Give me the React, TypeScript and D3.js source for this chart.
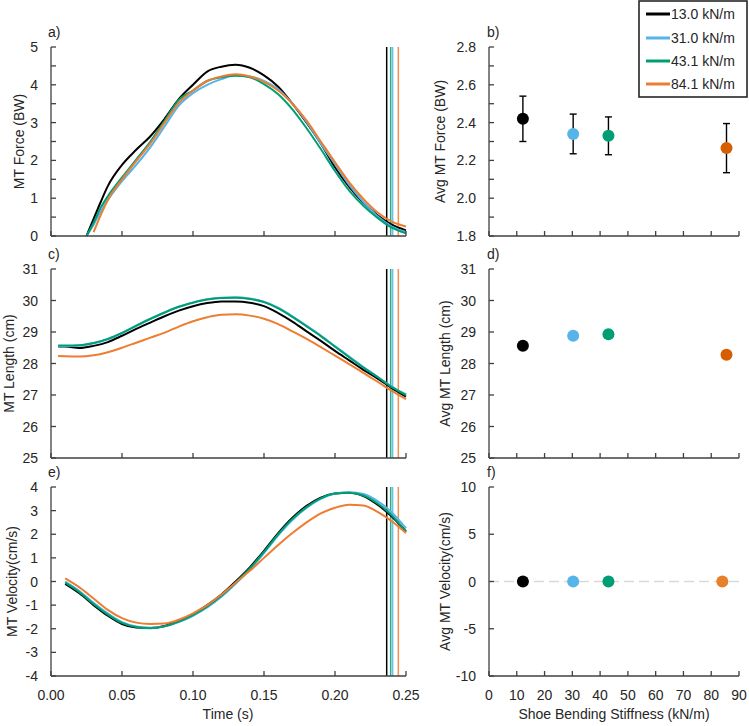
import React from "react";
import * as d3 from "d3";

// ---------- DATA ----------
const SERIES_LABELS = ["13.0 kN/m", "31.0 kN/m", "43.1 kN/m", "84.1 kN/m"];
const LINE_COLORS = ["#000000", "#56B4E9", "#009E73", "#ED7D31"];
const DOT_COLORS_BD = ["#000000", "#56B4E9", "#009E73", "#D55E00"];
const DOT_COLORS_F = ["#000000", "#56B4E9", "#009E73", "#E8802B"];

// Toe-off (end of stance) times, one per shoe
const TOE_OFF = [0.2364, 0.2406, 0.2392, 0.2446];

// a) MT force (BW)
const T_FORCE = [0.025, 0.03, 0.035, 0.04, 0.05, 0.06, 0.07, 0.08, 0.09, 0.1, 0.11, 0.12, 0.13, 0.14, 0.15, 0.16, 0.17, 0.18, 0.19, 0.2, 0.21, 0.22, 0.23, 0.24, 0.25];
const FORCE_13 = [0, 0.45, 0.9, 1.32, 1.88, 2.28, 2.64, 3.1, 3.62, 4.0, 4.35, 4.48, 4.53, 4.45, 4.25, 3.95, 3.5, 3.0, 2.45, 1.82, 1.3, 0.88, 0.55, 0.3, 0.15];
const FORCE_31 = [0, 0.3, 0.65, 0.95, 1.45, 1.88, 2.35, 2.9, 3.45, 3.78, 4.0, 4.15, 4.25, 4.22, 4.1, 3.88, 3.5, 3.02, 2.45, 1.9, 1.35, 0.9, 0.52, 0.25, 0.1];
const FORCE_43 = [0, 0.35, 0.75, 1.05, 1.55, 2.02, 2.5, 3.05, 3.6, 3.85, 4.1, 4.2, 4.24, 4.2, 4.02, 3.75, 3.35, 2.85, 2.3, 1.72, 1.2, 0.8, 0.48, 0.22, 0.07];
const FORCE_84 = [null, 0.1, 0.55, 0.95, 1.5, 1.98, 2.45, 3.0, 3.52, 3.85, 4.1, 4.22, 4.28, 4.22, 4.08, 3.85, 3.5, 3.05, 2.5, 1.95, 1.42, 0.98, 0.62, 0.38, 0.25];

// c) MT length (cm)
const T_LEN = [0.005, 0.01, 0.02, 0.03, 0.04, 0.05, 0.06, 0.07, 0.08, 0.09, 0.1, 0.11, 0.12, 0.13, 0.14, 0.15, 0.16, 0.17, 0.18, 0.19, 0.2, 0.21, 0.22, 0.23, 0.24, 0.25];
const LEN_13 = [28.54, 28.54, 28.49, 28.56, 28.68, 28.88, 29.1, 29.3, 29.5, 29.68, 29.82, 29.92, 29.97, 29.97, 29.93, 29.82, 29.6, 29.33, 29.02, 28.72, 28.4, 28.1, 27.8, 27.52, 27.22, 26.95];
const LEN_31 = [28.55, 28.55, 28.57, 28.64, 28.77, 28.96, 29.19, 29.41, 29.62, 29.8, 29.94, 30.04, 30.09, 30.1, 30.06, 29.96, 29.77, 29.5, 29.2, 28.89, 28.55, 28.22, 27.89, 27.58, 27.27, 27.02];
const LEN_43 = [28.57, 28.57, 28.58, 28.65, 28.78, 28.97, 29.2, 29.42, 29.62, 29.8, 29.93, 30.03, 30.08, 30.09, 30.05, 29.95, 29.75, 29.48, 29.18, 28.87, 28.53, 28.2, 27.87, 27.57, 27.25, 27.0];
const LEN_84 = [28.24, 28.23, 28.22, 28.26, 28.36, 28.5, 28.66, 28.82, 28.98, 29.17, 29.34, 29.47, 29.55, 29.56, 29.52, 29.42, 29.25, 29.02, 28.78, 28.52, 28.25, 27.98, 27.7, 27.42, 27.13, 26.87];

// e) MT velocity (cm/s)
const T_VEL = [0.01, 0.02, 0.03, 0.04, 0.05, 0.06, 0.07, 0.08, 0.09, 0.1, 0.11, 0.12, 0.13, 0.14, 0.15, 0.16, 0.17, 0.18, 0.19, 0.2, 0.21, 0.22, 0.23, 0.24, 0.25];
const VEL_13 = [-0.1, -0.5, -1.0, -1.45, -1.8, -1.95, -1.97, -1.88, -1.66, -1.38, -1.0, -0.55, 0.0, 0.6, 1.3, 2.05, 2.7, 3.2, 3.55, 3.72, 3.76, 3.62, 3.25, 2.75, 2.12];
const VEL_31 = [0.0, -0.4, -0.9, -1.35, -1.72, -1.9, -1.96, -1.9, -1.72, -1.45, -1.1, -0.65, -0.1, 0.5, 1.2, 1.95, 2.6, 3.12, 3.5, 3.72, 3.78, 3.7, 3.4, 2.92, 2.25];
const VEL_43 = [-0.05, -0.45, -0.95, -1.4, -1.75, -1.93, -1.98, -1.9, -1.7, -1.42, -1.05, -0.6, -0.05, 0.55, 1.25, 2.0, 2.65, 3.15, 3.52, 3.72, 3.76, 3.64, 3.3, 2.8, 2.1];
const VEL_84 = [0.13, -0.25, -0.72, -1.2, -1.55, -1.74, -1.8, -1.78, -1.62, -1.35, -1.0, -0.55, -0.05, 0.45, 1.0, 1.55, 2.05, 2.5, 2.88, 3.12, 3.25, 3.22, 2.95, 2.55, 2.05];

// b, d, f) averages vs shoe bending stiffness
const STIFF_BD = [12.2, 30.3, 43.0, 85.5];
const STIFF_F = [12.2, 30.3, 43.0, 84.0];
const AVG_FORCE = [2.42, 2.34, 2.33, 2.265];
const AVG_FORCE_SD = [0.12, 0.105, 0.1, 0.13];
const AVG_LENGTH = [28.56, 28.88, 28.93, 28.28];
const AVG_VELOCITY = [0, 0, 0, 0];

const TIME_TICKS = [0, 0.05, 0.1, 0.15, 0.2, 0.25];
const STIFF_TICKS = [0, 10, 20, 30, 40, 50, 60, 70, 80, 90];

// ---------- LAYOUT ----------
const W = 749;
const H = 726;
const LX0 = 51, LX1 = 406;
const RX0 = 489, RX1 = 739;
const ROWS = [
  [47, 236],
  [269, 458],
  [487, 676],
];
const AX = "#404040";
const TXT = "#262626";
const FONT = "'Liberation Sans', Arial, Helvetica, sans-serif";
const FS = 14;
const TICK = 5;

const xTime = d3.scaleLinear().domain([0, 0.25]).range([LX0, LX1]);
const xStiff = d3.scaleLinear().domain([0, 90]).range([RX0, RX1]);

function YAxis({ x, scale, ticks, labels, fmt }) {
  const [r0, r1] = scale.range();
  return (
    <g>
      <line x1={x} x2={x} y1={r0} y2={r1} stroke={AX} strokeWidth={1.3} />
      {ticks.map((t, i) => (
        <line key={"t" + i} x1={x} x2={x + TICK} y1={scale(t)} y2={scale(t)} stroke={AX} strokeWidth={1.3} />
      ))}
      {labels.map((t, i) => (
        <text key={"l" + i} x={x - 13} y={scale(t) + 5} textAnchor="end" fontSize={FS} fill={TXT} fontFamily={FONT}>
          {fmt(t)}
        </text>
      ))}
    </g>
  );
}

function XAxis({ y, scale, ticks, showLabels, fmt }) {
  const [r0, r1] = scale.range();
  return (
    <g>
      <line x1={r0} x2={r1} y1={y} y2={y} stroke={AX} strokeWidth={1.3} />
      {ticks.map((t, i) => (
        <line key={"t" + i} x1={scale(t)} x2={scale(t)} y1={y} y2={y - TICK} stroke={AX} strokeWidth={1.3} />
      ))}
      {showLabels &&
        ticks.map((t, i) => (
          <text key={"l" + i} x={scale(t)} y={y + 24} textAnchor="middle" fontSize={FS} fill={TXT} fontFamily={FONT}>
            {fmt(t)}
          </text>
        ))}
    </g>
  );
}

function YTitle({ x, yMid, text }) {
  return (
    <text transform={`translate(${x},${yMid}) rotate(-90)`} textAnchor="middle" fontSize={FS} fill={TXT} fontFamily={FONT}>
      {text}
    </text>
  );
}

function PanelLetter({ x, y, text }) {
  return (
    <text x={x} y={y} fontSize={FS} fill={TXT} fontFamily={FONT}>
      {text}
    </text>
  );
}

function TimePanel({ row, times, series, yDomain, yTicks, yLabels, fmt, title, titleX, letter, last }) {
  const [top, bottom] = ROWS[row];
  const y = d3.scaleLinear().domain(yDomain).range([bottom, top]);
  const line = d3
    .line()
    .defined((d) => d[1] !== null && d[1] !== undefined)
    .x((d) => xTime(d[0]))
    .y((d) => y(d[1]))
    .curve(d3.curveMonotoneX);
  return (
    <g>
      {TOE_OFF.map((t, i) => (
        <line key={"v" + i} x1={xTime(t)} x2={xTime(t)} y1={top} y2={bottom} stroke={LINE_COLORS[i]} strokeWidth={1.5} opacity={i === 0 ? 1 : 0.85} />
      ))}
      {series.map((vals, i) => (
        <path key={"s" + i} d={line(times.map((t, j) => [t, vals[j]]))} fill="none" stroke={LINE_COLORS[i]} strokeWidth={2} />
      ))}
      <YAxis x={LX0} scale={y} ticks={yTicks} labels={yLabels} fmt={fmt} />
      <XAxis y={bottom} scale={xTime} ticks={TIME_TICKS} showLabels={last} fmt={(v) => v.toFixed(2)} />
      <YTitle x={titleX} yMid={(top + bottom) / 2} text={title} />
      <PanelLetter x={48} y={top - 10} text={letter} />
    </g>
  );
}

function AvgPanel({ row, xs, values, sds, colors, yDomain, yTicks, yLabels, fmt, title, titleX, letter, last, zeroLine }) {
  const [top, bottom] = ROWS[row];
  const y = d3.scaleLinear().domain(yDomain).range([bottom, top]);
  return (
    <g>
      {zeroLine && (
        <line x1={RX0} x2={RX1} y1={y(0)} y2={y(0)} stroke="#D9D9D9" strokeWidth={1.5} strokeDasharray="10 5" />
      )}
      {sds &&
        values.map((v, i) => (
          <g key={"e" + i} stroke="#000" strokeWidth={1.4}>
            <line x1={xStiff(xs[i])} x2={xStiff(xs[i])} y1={y(v - sds[i])} y2={y(v + sds[i])} />
            <line x1={xStiff(xs[i]) - 3.5} x2={xStiff(xs[i]) + 3.5} y1={y(v - sds[i])} y2={y(v - sds[i])} />
            <line x1={xStiff(xs[i]) - 3.5} x2={xStiff(xs[i]) + 3.5} y1={y(v + sds[i])} y2={y(v + sds[i])} />
          </g>
        ))}
      {values.map((v, i) => (
        <circle key={"c" + i} cx={xStiff(xs[i])} cy={y(v)} r={6} fill={colors[i]} />
      ))}
      <YAxis x={RX0} scale={y} ticks={yTicks} labels={yLabels} fmt={fmt} />
      <XAxis y={bottom} scale={xStiff} ticks={STIFF_TICKS} showLabels={last} fmt={(v) => String(v)} />
      <YTitle x={titleX} yMid={(top + bottom) / 2} text={title} />
      <PanelLetter x={487} y={top - 10} text={letter} />
    </g>
  );
}

function Legend() {
  const x0 = 639, y0 = 1, w = 108, h = 96;
  const rowY = [14, 38, 61, 84];
  return (
    <g>
      <rect x={x0} y={y0} width={w} height={h} fill="#fff" stroke="#262626" strokeWidth={1.6} />
      {SERIES_LABELS.map((s, i) => (
        <g key={s}>
          <line x1={646} x2={670} y1={rowY[i]} y2={rowY[i]} stroke={LINE_COLORS[i]} strokeWidth={3} />
          <text x={671} y={rowY[i] + 5} fontSize={FS} fill={TXT} fontFamily={FONT}>
            {s}
          </text>
        </g>
      ))}
    </g>
  );
}

const range = (a, b, s) => d3.range(a, b + s / 2, s).map((v) => Math.round(v * 100) / 100);

export default function App() {
  return (
    <svg width={W} height={H} style={{ position: "absolute", left: 0, top: 0, background: "#fff" }}>
      <rect x={0} y={0} width={W} height={H} fill="#fff" />
      <TimePanel
        row={0}
        times={T_FORCE}
        series={[FORCE_13, FORCE_31, FORCE_43, FORCE_84]}
        yDomain={[0, 5]}
        yTicks={range(0, 5, 0.5)}
        yLabels={range(0, 5, 1)}
        fmt={(v) => String(v)}
        title="MT Force (BW)"
        titleX={24}
        letter="a)"
      />
      <TimePanel
        row={1}
        times={T_LEN}
        series={[LEN_13, LEN_31, LEN_43, LEN_84]}
        yDomain={[25, 31]}
        yTicks={range(25, 31, 1)}
        yLabels={range(25, 31, 1)}
        fmt={(v) => String(v)}
        title="MT Length (cm)"
        titleX={14}
        letter="c)"
      />
      <TimePanel
        row={2}
        times={T_VEL}
        series={[VEL_13, VEL_31, VEL_43, VEL_84]}
        yDomain={[-4, 4]}
        yTicks={range(-4, 4, 1)}
        yLabels={range(-4, 4, 1)}
        fmt={(v) => String(v)}
        title="MT Velocity(cm/s)"
        titleX={17}
        letter="e)"
        last
      />
      <AvgPanel
        row={0}
        xs={STIFF_BD}
        values={AVG_FORCE}
        sds={AVG_FORCE_SD}
        colors={DOT_COLORS_BD}
        yDomain={[1.8, 2.8]}
        yTicks={range(1.8, 2.8, 0.1)}
        yLabels={range(1.8, 2.8, 0.2)}
        fmt={(v) => v.toFixed(1)}
        title="Avg MT Force (BW)"
        titleX={445}
        letter="b)"
      />
      <AvgPanel
        row={1}
        xs={STIFF_BD}
        values={AVG_LENGTH}
        colors={DOT_COLORS_BD}
        yDomain={[25, 31]}
        yTicks={range(25, 31, 1)}
        yLabels={range(25, 31, 1)}
        fmt={(v) => String(v)}
        title="Avg MT Length (cm)"
        titleX={450}
        letter="d)"
      />
      <AvgPanel
        row={2}
        xs={STIFF_F}
        values={AVG_VELOCITY}
        colors={DOT_COLORS_F}
        yDomain={[-10, 10]}
        yTicks={range(-10, 10, 5)}
        yLabels={range(-10, 10, 5)}
        fmt={(v) => String(v)}
        title="Avg MT Velocity(cm/s)"
        titleX={450}
        letter="f)"
        last
        zeroLine
      />
      <text x={228} y={719} textAnchor="middle" fontSize={FS} fill={TXT} fontFamily={FONT}>
        Time (s)
      </text>
      <text x={614} y={719} textAnchor="middle" fontSize={FS} fill={TXT} fontFamily={FONT}>
        Shoe Bending Stiffness (kN/m)
      </text>
      <Legend />
    </svg>
  );
}
